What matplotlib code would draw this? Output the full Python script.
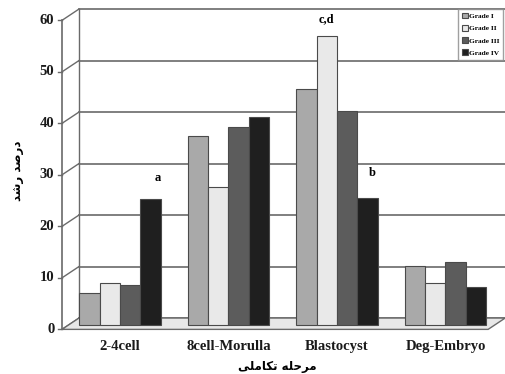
import numpy as np
import matplotlib
matplotlib.use('Agg')
import matplotlib.pyplot as plt
from matplotlib.patches import Polygon

# data
stages = ['2-4cell', '8cell-Morulla', 'Blastocyst', 'Deg-Embryo']
grades = ['Grade I', 'Grade II', 'Grade III', 'Grade IV']
grade1 = [6.2, 36.7, 45.8, 11.5]
grade2 = [8.1, 26.8, 56.1, 8.1]
grade3 = [7.8, 38.5, 41.6, 12.2]
grade4 = [24.5, 40.4, 24.6, 7.4]
yticks = [0, 10, 20, 30, 40, 50, 60]

colors = ['#a9a9a9', '#e9e9e9', '#5c5c5c', '#1f1f1f']
serif = 'Liberation Serif'

# persian labels (presentation forms, visual order)
ylab = '\ufeaa\ufeb7\ufead \ufeaa\ufebb\ufead\ufea9'          # درصد رشد
xlab = '\ufbfd\ufee0\ufee3\ufe8e\ufedc\ufe97 \ufeea\ufee0\ufea3\ufeae\ufee3'  # مرحله تکاملی

fig = plt.figure(figsize=(5.06, 3.74), dpi=100)
ax = fig.add_axes([0, 0, 1, 1])
# 108.5 px per category, 5.15 px per unit; category 0 at px 120, value 0 at px 325
ax.set_xlim((0 - 120) / 108.5, (506 - 120) / 108.5)
ax.set_ylim(-(374 - 325) / 5.15, 325 / 5.15)
ax.axis('off')

xf, xb = -0.535, -0.378       # front axis / back wall x
fy, by = -0.85, 1.35          # front / back zero offset
xr = 3.55                     # back wall right edge
line_c = '#6a6a6a'

# floor
floor = Polygon([(xf, fy), (xb, by), (xr, by), (xr - (xb - xf), fy)],
                closed=True, facecolor='#e8e8e8', edgecolor=line_c, lw=1.0, zorder=1)
ax.add_patch(floor)

# back wall gridlines, left wall diagonals, ticks
for v in yticks:
    ax.plot([xb, xr], [v + by, v + by], color=line_c, lw=1.2, zorder=0.5)
    ax.plot([xf, xb], [v + fy, v + by], color=line_c, lw=1.0, zorder=0.5)
    ax.plot([xf - 0.04, xf], [v + fy, v + fy], color=line_c, lw=1.0, zorder=0.5)
    ax.text(xf - 0.07, v + fy, str(v), ha='right', va='center',
            fontsize=10.5, fontweight='bold', family=serif, color='#1a1a1a')
ax.plot([xf, xf], [fy, 60 + fy], color=line_c, lw=1.2, zorder=0.5)
ax.plot([xb, xb], [by, 60 + by], color=line_c, lw=1.0, zorder=0.5)

# bars
x = np.arange(len(stages))
w = 0.187
series = [grade1, grade2, grade3, grade4]
for i, (vals, c, g) in enumerate(zip(series, colors, grades)):
    ax.bar(x + (i - 1.5) * w, vals, w, color=c, edgecolor='#4a4a4a',
           lw=0.8, label=g, zorder=3)

# category labels
for xi, s in zip(x, stages):
    ax.text(xi, -4.2, s, ha='center', va='center', fontsize=10.5,
            fontweight='bold', family=serif, color='#1a1a1a')

# significance letters
ax.text(x[0] + 1.5 * w + 0.07, grade4[0] + 4.0, 'a', ha='center', va='center',
        fontsize=9, fontweight='bold', family=serif)
ax.text(x[2] - 0.5 * w, grade2[2] + 3.3, 'c,d', ha='center', va='center',
        fontsize=9, fontweight='bold', family=serif)
ax.text(x[2] + 1.5 * w + 0.04, grade4[2] + 5.0, 'b', ha='center', va='center',
        fontsize=9, fontweight='bold', family=serif)

# axis titles
ax.text(1.45, -8.0, xlab, ha='center', va='center', fontsize=8.5,
        fontweight='bold', family='DejaVu Sans')
ax.text((17 - 120) / 108.5, 30, ylab, ha='center', va='center', rotation=90,
        fontsize=8.5, fontweight='bold', family='DejaVu Sans')

leg = ax.legend(loc='upper left', bbox_to_anchor=(458 / 506, 1 - 9 / 374),
                prop={'family': serif, 'weight': 'bold', 'size': 5.3},
                frameon=True, fancybox=False, handlelength=0.8, handleheight=0.8,
                handletextpad=0.2, labelspacing=0.8, borderpad=0.5, borderaxespad=0)
leg.get_frame().set_edgecolor('#888888')
leg.get_frame().set_linewidth(1.0)

fig.savefig('out.png', dpi=100)
